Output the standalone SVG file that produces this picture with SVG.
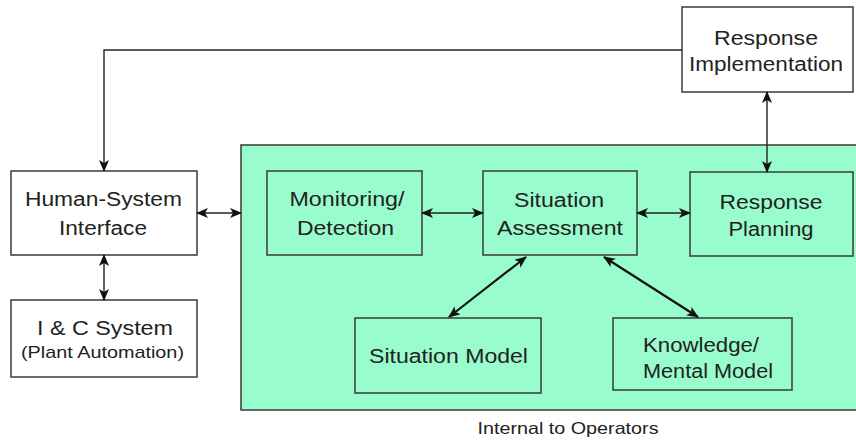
<svg xmlns="http://www.w3.org/2000/svg" width="856" height="440" viewBox="0 0 856 440">
<defs>
<style>
.box{fill:#ffffff;stroke:#3a3a3a;stroke-width:1.5}
.gbox{fill:#99fccc;stroke:#3a3a3a;stroke-width:1.5}
.area{fill:#99fccc;stroke:#3a3a3a;stroke-width:1.5}
text{font-family:"Liberation Sans",Arial,sans-serif;font-size:19.5px;fill:#222;text-anchor:middle}
.sm{font-size:17px}
.lbl{font-size:16.5px}
.c{fill:none;stroke:#222;stroke-width:1.4}
.ct{fill:none;stroke:#111;stroke-width:2.2}
</style>
<marker id="ah" viewBox="0 0 12 10" refX="11" refY="5" markerWidth="13" markerHeight="10" markerUnits="userSpaceOnUse" orient="auto-start-reverse">
<path d="M0,0 L12,5 L0,10 L3,5 Z" fill="#111"/>
</marker>
</defs>
<g id="internal-area">
<rect class="area" x="241" y="145" width="625" height="265"/>
<text class="lbl" x="568" y="434" textLength="181" lengthAdjust="spacingAndGlyphs">Internal to Operators</text>
</g>
<g id="response-implementation">
<rect class="box" x="682" y="7" width="171" height="85"/>
<text x="766" y="45" textLength="104" lengthAdjust="spacingAndGlyphs">Response</text>
<text x="766" y="71" textLength="154" lengthAdjust="spacingAndGlyphs">Implementation</text>
</g>
<g id="human-system-interface">
<rect class="box" x="11" y="171" width="186" height="84"/>
<text x="103.5" y="206" textLength="157" lengthAdjust="spacingAndGlyphs">Human-System</text>
<text x="103" y="235" textLength="88" lengthAdjust="spacingAndGlyphs">Interface</text>
</g>
<g id="ic-system">
<rect class="box" x="11" y="300" width="186" height="77"/>
<text x="105" y="335" textLength="136" lengthAdjust="spacingAndGlyphs">I &amp; C System</text>
<text class="sm" x="102.5" y="358" textLength="163" lengthAdjust="spacingAndGlyphs">(Plant Automation)</text>
</g>
<g id="monitoring-detection">
<rect class="gbox" x="267" y="171" width="155" height="84"/>
<text x="347" y="206" textLength="115" lengthAdjust="spacingAndGlyphs">Monitoring/</text>
<text x="345.5" y="235" textLength="97" lengthAdjust="spacingAndGlyphs">Detection</text>
</g>
<g id="situation-assessment">
<rect class="gbox" x="483" y="171" width="154" height="84"/>
<text x="559" y="207" textLength="90" lengthAdjust="spacingAndGlyphs">Situation</text>
<text x="560" y="235" textLength="126" lengthAdjust="spacingAndGlyphs">Assessment</text>
</g>
<g id="response-planning">
<rect class="gbox" x="690" y="172" width="163" height="84"/>
<text x="771" y="209" textLength="103" lengthAdjust="spacingAndGlyphs">Response</text>
<text x="771" y="236" textLength="85" lengthAdjust="spacingAndGlyphs">Planning</text>
</g>
<g id="situation-model">
<rect class="gbox" x="355" y="318" width="186" height="75"/>
<text x="448.5" y="363" textLength="159" lengthAdjust="spacingAndGlyphs">Situation Model</text>
</g>
<g id="knowledge-mental-model">
<rect class="gbox" x="613" y="318" width="179" height="72"/>
<text x="701" y="352" textLength="116" lengthAdjust="spacingAndGlyphs">Knowledge/</text>
<text x="708" y="378" textLength="130" lengthAdjust="spacingAndGlyphs">Mental Model</text>
</g>
<g id="connectors">
<path class="c" d="M682,50 H104 V171" marker-end="url(#ah)"/>
<path class="c" d="M767,92 V172" marker-start="url(#ah)" marker-end="url(#ah)"/>
<path class="c" d="M104,255 V300" marker-start="url(#ah)" marker-end="url(#ah)"/>
<path class="c" d="M197,213 H241" marker-start="url(#ah)" marker-end="url(#ah)"/>
<path class="c" d="M422,213 H483" marker-start="url(#ah)" marker-end="url(#ah)"/>
<path class="c" d="M637,213 H690" marker-start="url(#ah)" marker-end="url(#ah)"/>
<path class="ct" d="M526,257 L449,317" marker-start="url(#ah)" marker-end="url(#ah)"/>
<path class="ct" d="M604,257 L698,317" marker-start="url(#ah)" marker-end="url(#ah)"/>
</g>
</svg>
